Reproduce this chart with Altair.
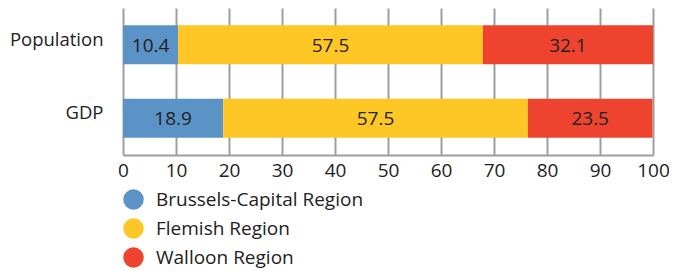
import altair as alt
import pandas as pd

categories = ["Population", "GDP"]
regions = ["Brussels-Capital Region", "Flemish Region", "Walloon Region"]
population = [10.4, 57.5, 32.1]
gdp = [18.9, 57.5, 23.5]
colors = ["#5b93c7", "#fec726", "#ee432e"]
x_ticks = [0, 10, 20, 30, 40, 50, 60, 70, 80, 90, 100]

rows = []
for cat, vals in zip(categories, [population, gdp]):
    for i, (reg, v) in enumerate(zip(regions, vals)):
        rows.append({"category": cat, "region": reg, "value": v, "order": i})
df = pd.DataFrame(rows)

FONT = "Open Sans"
FS = 19

base = alt.Chart(df).transform_stack(
    stack="value", groupby=["category"], as_=["x0", "x1"],
    sort=[alt.SortField("order", order="ascending")]
).transform_calculate(mid="(datum.x0 + datum.x1) / 2")

y_enc = alt.Y("category:N", sort=categories, title=None,
              scale=alt.Scale(paddingInner=0.47, paddingOuter=0.235),
              axis=alt.Axis(domain=False, ticks=False, labelPadding=20,
                            labelFontSize=18.5, labelColor="#222222",
                            labelFont=FONT, labelOffset=-5))

bars = base.mark_bar().encode(
    x=alt.X("x0:Q", title=None,
            scale=alt.Scale(domain=[0, 100], nice=False),
            axis=alt.Axis(values=x_ticks, grid=True, gridColor="#9e9e9e",
                          gridWidth=2, domainColor="#9e9e9e", domainWidth=2,
                          ticks=False, labelPadding=6, labelFontSize=FS,
                          labelColor="#222222", labelFont=FONT,
                          labelFlush=False)),
    x2="x1:Q",
    y=y_enc,
    color=alt.Color("region:N", sort=regions,
                    scale=alt.Scale(domain=regions, range=colors),
                    legend=alt.Legend(title=None, orient="none",
                                      legendX=0, legendY=181,
                                      symbolType="circle", symbolSize=420,
                                      symbolStrokeWidth=0,
                                      labelFontSize=FS, labelColor="#222222",
                                      labelFont=FONT, rowPadding=8,
                                      labelOffset=12, padding=0,
                                      labelLimit=400)),
)

labels = base.mark_text(fontSize=FS, color="#222222", font=FONT, dy=1).encode(
    x=alt.X("mid:Q"),
    y=alt.Y("category:N", sort=categories),
    text=alt.Text("value:Q", format=".1f"),
)

chart = (bars + labels).properties(
    width=530, height=147,
    autosize=alt.AutoSizeParams(type="none"),
    padding={"left": 115, "top": 0, "right": 16, "bottom": 116},
).configure_view(stroke=None)

chart.save("out.html", embed_options={"renderer": "svg", "actions": False})
